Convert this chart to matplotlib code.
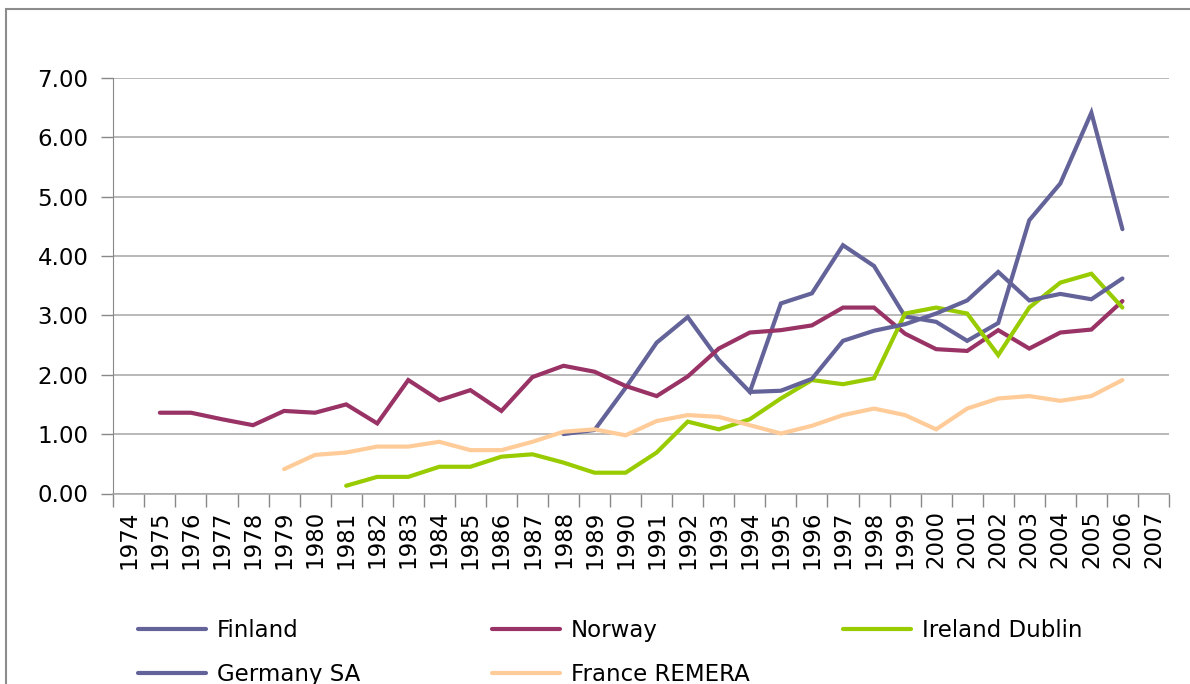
import matplotlib.pyplot as plt
import numpy as np
from matplotlib.patches import Rectangle

nan = np.nan
years = list(range(1974, 2008))

# values per year 1974..2007 (nan = no data)
finland = [nan] * 14 + [1.00, 1.07, 1.78, 2.54, 2.97, 2.25, 1.71, 3.20, 3.37, 4.18,
                        3.83, 2.98, 2.89, 2.57, 2.87, 4.60, 5.22, 6.41, 4.45, nan]
germany_sa = [nan] * 20 + [1.71, 1.73, 1.93, 2.57, 2.74, 2.85, 3.03, 3.25, 3.73, 3.25,
                           3.36, 3.27, 3.62, nan]
norway = [nan, 1.36, 1.36, 1.25, 1.15, 1.39, 1.36, 1.50, 1.18, 1.91, 1.57, 1.74, 1.39,
          1.96, 2.15, 2.05, 1.81, 1.64, 1.97, 2.44, 2.71, 2.75, 2.83, 3.13, 3.13, 2.69,
          2.43, 2.40, 2.75, 2.44, 2.71, 2.76, 3.24, nan]
ireland = [nan] * 7 + [0.13, 0.28, 0.28, 0.45, 0.45, 0.62, 0.66, 0.52, 0.35, 0.35, 0.69,
                       1.21, 1.08, 1.25, 1.60, 1.91, 1.84, 1.94, 3.03, 3.13, 3.03, 2.33,
                       3.13, 3.55, 3.70, 3.13, nan]
france = [nan] * 5 + [0.41, 0.65, 0.69, 0.79, 0.79, 0.87, 0.73, 0.73, 0.87, 1.04, 1.08,
                      0.98, 1.22, 1.32, 1.29, 1.15, 1.01, 1.14, 1.32, 1.43, 1.32, 1.08,
                      1.43, 1.60, 1.64, 1.56, 1.64, 1.91, nan]

series = [
    ("Finland", finland, "#63639A"),
    ("Norway", norway, "#993366"),
    ("Ireland Dublin", ireland, "#99CC00"),
    ("Germany SA", germany_sa, "#63639A"),
    ("France REMERA", france, "#FFCC99"),
]

W, H = 1190, 684
fig = plt.figure(figsize=(W / 100, H / 100), dpi=100)
left, right, top, bottom = 113.3, 1169, 77.7, 493.5
ax = fig.add_axes([left / W, 1 - bottom / H, (right - left) / W, (bottom - top) / H])

x = np.arange(len(years)) + 0.5
handles = {}
for name, vals, color in series:
    h, = ax.plot(x, vals, color=color, lw=3.0, solid_capstyle="round",
                 solid_joinstyle="miter", label=name)
    handles[name] = h

ax.set_xlim(0, len(years))
ax.set_ylim(0, 7)
ax.set_yticks(np.arange(0, 8, 1))
ax.set_yticklabels([f"{v:.2f}" for v in range(8)], fontsize=16.5, family="DejaVu Sans")
ax.set_xticks(x)
ax.set_xticklabels([str(y) for y in years], rotation=90, fontsize=16.5, family="DejaVu Sans")
ax.set_xticks(np.arange(len(years) + 1), minor=True)
ax.tick_params(axis="x", which="major", length=0, pad=12)
ax.tick_params(axis="x", which="minor", length=9, color="#888888", width=1)
ax.tick_params(axis="y", length=9, color="#888888", width=1, pad=9)

ax.yaxis.grid(True, color="#A6A6A6", lw=1.1)
ax.set_axisbelow(True)
for s in ["top", "right"]:
    ax.spines[s].set_visible(False)
ax.spines["left"].set_color("#888888")
ax.spines["bottom"].set_color("#A6A6A6")
ax.spines["bottom"].set_linewidth(1.1)

# outer chart border (left and top visible)
fig.patches.append(Rectangle((5.5 / W, -0.05), 1.1, 1.05 - 8.7 / H, transform=fig.transFigure,
                             fill=False, edgecolor="#8C8C8C", lw=1.5))

# legend, one column per block
cols = [(["Finland", "Germany SA"], 138), (["Norway", "France REMERA"], 492),
        (["Ireland Dublin"], 843)]
for names, xpx in cols:
    leg = fig.legend([handles[n] for n in names], names, loc="upper left",
                     bbox_to_anchor=(xpx / W, 1 - 619 / H), frameon=False,
                     fontsize=16.5, handlelength=2.95, handletextpad=0.5,
                     labelspacing=0.9, borderaxespad=0, borderpad=0)
    for t in leg.get_texts():
        t.set_family("DejaVu Sans")

fig.savefig("out.png", dpi=100)
